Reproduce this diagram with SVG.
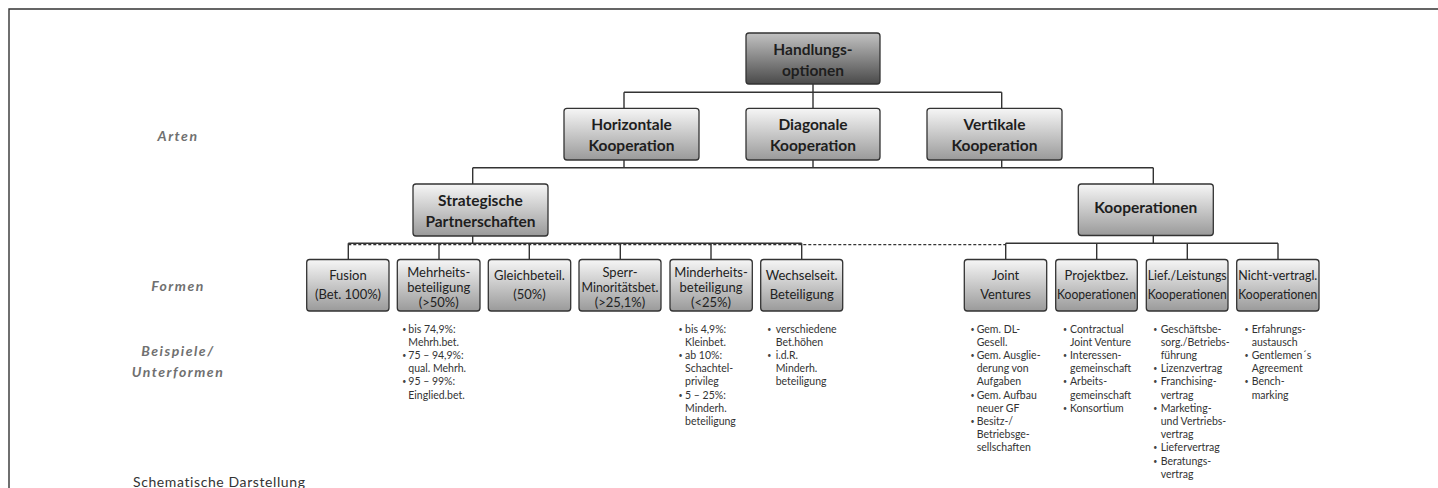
<svg xmlns="http://www.w3.org/2000/svg" width="1438" height="488" viewBox="0 0 1438 488">
<style>
.bx{stroke:#333;stroke-width:1.3;fill:url(#gl)}
.dk{stroke:#333;stroke-width:1.3;fill:url(#gd)}
.tb{font-family:Lato,"Open Sans",sans-serif;font-weight:bold;font-size:15.5px;fill:#1e1e1e;text-anchor:middle}
.tf{font-family:Lato,"Open Sans",sans-serif;font-size:13px;fill:#222;text-anchor:middle}
.lab{font-family:Lato,"Open Sans",sans-serif;font-weight:bold;font-style:italic;font-size:14px;letter-spacing:1.5px;fill:#707070;text-anchor:middle}
.ex{font-family:Lato,"Open Sans",sans-serif;font-size:10.5px;fill:#333}
.bu{font-family:Lato,"Open Sans",sans-serif;font-size:7px;fill:#444}
.cn{stroke:#333;stroke-width:1.4;fill:none}
.ds{stroke:#333;stroke-width:1.3;fill:none;stroke-dasharray:3 2}
</style>
<defs>
<linearGradient id="gl" x1="0" y1="0" x2="0" y2="1"><stop offset="0" stop-color="#f6f6f6"/><stop offset="1" stop-color="#9a9a9a"/></linearGradient>
<linearGradient id="gd" x1="0" y1="0" x2="0" y2="1"><stop offset="0" stop-color="#c2c2c2"/><stop offset="1" stop-color="#4a4a4a"/></linearGradient>
</defs>
<rect width="1438" height="488" fill="#fff"/>
<path d="M9,490 V9 H1440" fill="none" stroke="#333" stroke-width="1.4"/>

<g id="labels">
<text class="lab" x="178" y="141">Arten</text>
<text class="lab" x="178" y="291">Formen</text>
<text class="lab" x="178" y="356">Beispiele/</text>
<text class="lab" x="178" y="377">Unterformen</text>
<text x="133" y="487" font-family="Lato,'Open Sans',sans-serif" font-size="14" fill="#333" letter-spacing="0.6">Schematische Darstellung</text>
</g>

<g id="connectors">
<path class="cn" d="M813,84 V92.3 M624,92.3 H1001.7 M624,92.3 V108 M813,92.3 V108 M1001.7,92.3 V108"/>
<path class="cn" d="M624,160 V167.7 M813,160 V167.7 M1001.7,160 V167.7 M472.7,167.7 H1153.3 M472.7,167.7 V184 M1153.3,167.7 V184"/>
<path class="cn" d="M472.7,236 V243.3 M348.3,243.3 H801.7 M348.3,243.3 V259.5 M439,243.3 V259.5 M529.3,243.3 V259.5 M620.3,243.3 V259.5 M711,243.3 V259.5 M801.7,243.3 V259.5"/>
<path class="ds" d="M348.3,244.6 H1005.7"/>
<path class="cn" d="M1153.3,235.5 V243.3 M1005.7,243.3 H1278 M1005.7,243.3 V259.5 M1096.7,243.3 V259.5 M1187.3,243.3 V259.5 M1278,243.3 V259.5"/>
</g>

<g id="n-handlung"><rect class="dk" x="746" y="33" width="134" height="51" rx="3"/><text class="tb" x="813" y="54.5">Handlungs-</text><text class="tb" x="813" y="75.5">optionen</text></g>
<g id="n-horizontal"><rect class="bx" x="564" y="108.3" width="135" height="51.7" rx="3"/><text class="tb" x="631.5" y="129.5">Horizontale</text><text class="tb" x="631.5" y="151">Kooperation</text></g>
<g id="n-diagonal"><rect class="bx" x="746" y="108.3" width="134" height="51.7" rx="3"/><text class="tb" x="813" y="129.5">Diagonale</text><text class="tb" x="813" y="151">Kooperation</text></g>
<g id="n-vertikal"><rect class="bx" x="927" y="108.3" width="135" height="51.7" rx="3"/><text class="tb" x="994.5" y="129.5">Vertikale</text><text class="tb" x="994.5" y="151">Kooperation</text></g>
<g id="n-strategisch"><rect class="bx" x="413" y="184" width="135" height="52" rx="3"/><text class="tb" x="480.5" y="205.5">Strategische</text><text class="tb" x="480.5" y="227">Partnerschaften</text></g>
<g id="n-kooperationen"><rect class="bx" x="1078.3" y="184" width="135" height="51.5" rx="3"/><text class="tb" x="1145.8" y="213">Kooperationen</text></g>

<g id="n-fusion"><rect class="bx" x="306.7" y="259.5" width="82.3" height="51.5" rx="3"/><text class="tf" x="348" y="279.5">Fusion</text><text class="tf" x="348" y="298.5">(Bet. 100%)</text></g>
<g id="n-mehrheit"><rect class="bx" x="397.3" y="259.5" width="82.7" height="51.5" rx="3"/><text class="tf" x="438.7" y="276.5">Mehrheits-</text><text class="tf" x="438.7" y="291.5">beteiligung</text><text class="tf" x="438.7" y="306.5">(&gt;50%)</text></g>
<g id="n-gleich"><rect class="bx" x="488.3" y="259.5" width="82.4" height="51.5" rx="3"/><text class="tf" x="529.5" y="279.5">Gleichbeteil.</text><text class="tf" x="529.5" y="298.5">(50%)</text></g>
<g id="n-sperr"><rect class="bx" x="579" y="259.5" width="82" height="51.5" rx="3"/><text class="tf" x="620" y="276.5">Sperr-</text><text class="tf" x="620" y="291.5" textLength="77" lengthAdjust="spacingAndGlyphs">Minoritätsbet.</text><text class="tf" x="620" y="306.5">(&gt;25,1%)</text></g>
<g id="n-minderheit"><rect class="bx" x="670" y="259.5" width="82.3" height="51.5" rx="3"/><text class="tf" x="711" y="276.5">Minderheits-</text><text class="tf" x="711" y="291.5">beteiligung</text><text class="tf" x="711" y="306.5">(&lt;25%)</text></g>
<g id="n-wechsel"><rect class="bx" x="760.7" y="259.5" width="82" height="51.5" rx="3"/><text class="tf" x="801.7" y="279.5">Wechselseit.</text><text class="tf" x="801.7" y="298.5">Beteiligung</text></g>
<g id="n-joint"><rect class="bx" x="964.3" y="259.5" width="82.4" height="51.5" rx="3"/><text class="tf" x="1005.5" y="279.5">Joint</text><text class="tf" x="1005.5" y="298.5">Ventures</text></g>
<g id="n-projekt"><rect class="bx" x="1055.7" y="259.5" width="81.6" height="51.5" rx="3"/><text class="tf" x="1096.5" y="279.5">Projektbez.</text><text class="tf" x="1096.5" y="298.5" textLength="79" lengthAdjust="spacingAndGlyphs">Kooperationen</text></g>
<g id="n-lief"><rect class="bx" x="1146.3" y="259.5" width="81.7" height="51.5" rx="3"/><text class="tf" x="1187.2" y="279.5" textLength="79" lengthAdjust="spacingAndGlyphs">Lief./Leistungs</text><text class="tf" x="1187.2" y="298.5" textLength="79" lengthAdjust="spacingAndGlyphs">Kooperationen</text></g>
<g id="n-nicht"><rect class="bx" x="1236.7" y="259.5" width="82.3" height="51.5" rx="3"/><text class="tf" x="1277.8" y="279.5" textLength="79" lengthAdjust="spacingAndGlyphs">Nicht-vertragl.</text><text class="tf" x="1277.8" y="298.5" textLength="79" lengthAdjust="spacingAndGlyphs">Kooperationen</text></g>

<g id="ex-mehrheit">
<text class="bu"><tspan x="402.3" y="331.5">•</tspan><tspan x="402.3" y="357.9">•</tspan><tspan x="402.3" y="384.3">•</tspan></text>
<text class="ex"><tspan x="408.3" y="332.5">bis 74,9%:</tspan><tspan x="408.3" dy="13.2">Mehrh.bet.</tspan><tspan x="408.3" dy="13.2">75 – 94,9%:</tspan><tspan x="408.3" dy="13.2">qual. Mehrh.</tspan><tspan x="408.3" dy="13.2">95 – 99%:</tspan><tspan x="408.3" dy="13.2">Einglied.bet.</tspan></text>
</g>
<g id="ex-minderheit">
<text class="bu"><tspan x="678.5" y="331.5">•</tspan><tspan x="678.5" y="357.9">•</tspan><tspan x="678.5" y="397.5">•</tspan></text>
<text class="ex"><tspan x="685" y="332.5">bis 4,9%:</tspan><tspan x="685" dy="13.2">Kleinbet.</tspan><tspan x="685" dy="13.2">ab 10%:</tspan><tspan x="685" dy="13.2">Schachtel-</tspan><tspan x="685" dy="13.2">privileg</tspan><tspan x="685" dy="13.2">5 – 25%:</tspan><tspan x="685" dy="13.2">Minderh.</tspan><tspan x="685" dy="13.2">beteiligung</tspan></text>
</g>
<g id="ex-wechsel">
<text class="bu"><tspan x="767.3" y="331.5">•</tspan><tspan x="767.3" y="357.9">•</tspan></text>
<text class="ex"><tspan x="775.7" y="332.5">verschiedene</tspan><tspan x="775.7" dy="13.2">Bet.höhen</tspan><tspan x="775.7" dy="13.2">i.d.R.</tspan><tspan x="775.7" dy="13.2">Minderh.</tspan><tspan x="775.7" dy="13.2">beteiligung</tspan></text>
</g>
<g id="ex-joint">
<text class="bu"><tspan x="970.5" y="331.5">•</tspan><tspan x="970.5" y="357.9">•</tspan><tspan x="970.5" y="397.5">•</tspan><tspan x="970.5" y="423.9">•</tspan></text>
<text class="ex"><tspan x="976.7" y="332.5">Gem. DL-</tspan><tspan x="976.7" dy="13.2">Gesell.</tspan><tspan x="976.7" dy="13.2">Gem. Ausglie-</tspan><tspan x="976.7" dy="13.2">derung von</tspan><tspan x="976.7" dy="13.2">Aufgaben</tspan><tspan x="976.7" dy="13.2">Gem. Aufbau</tspan><tspan x="976.7" dy="13.2">neuer GF</tspan><tspan x="976.7" dy="13.2">Besitz-/</tspan><tspan x="976.7" dy="13.2">Betriebsge-</tspan><tspan x="976.7" dy="13.2">sellschaften</tspan></text>
</g>
<g id="ex-projekt">
<text class="bu"><tspan x="1063" y="331.5">•</tspan><tspan x="1063" y="357.9">•</tspan><tspan x="1063" y="384.3">•</tspan><tspan x="1063" y="410.7">•</tspan></text>
<text class="ex"><tspan x="1070" y="332.5">Contractual</tspan><tspan x="1070" dy="13.2">Joint Venture</tspan><tspan x="1070" dy="13.2">Interessen-</tspan><tspan x="1070" dy="13.2">gemeinschaft</tspan><tspan x="1070" dy="13.2">Arbeits-</tspan><tspan x="1070" dy="13.2">gemeinschaft</tspan><tspan x="1070" dy="13.2">Konsortium</tspan></text>
</g>
<g id="ex-lief">
<text class="bu"><tspan x="1153.3" y="331.5">•</tspan><tspan x="1153.3" y="371.1">•</tspan><tspan x="1153.3" y="384.3">•</tspan><tspan x="1153.3" y="410.7">•</tspan><tspan x="1153.3" y="450.3">•</tspan><tspan x="1153.3" y="463.5">•</tspan></text>
<text class="ex"><tspan x="1160.7" y="332.5">Geschäftsbe-</tspan><tspan x="1160.7" dy="13.2">sorg./Betriebs-</tspan><tspan x="1160.7" dy="13.2">führung</tspan><tspan x="1160.7" dy="13.2">Lizenzvertrag</tspan><tspan x="1160.7" dy="13.2">Franchising-</tspan><tspan x="1160.7" dy="13.2">vertrag</tspan><tspan x="1160.7" dy="13.2">Marketing-</tspan><tspan x="1160.7" dy="13.2">und Vertriebs-</tspan><tspan x="1160.7" dy="13.2">vertrag</tspan><tspan x="1160.7" dy="13.2">Liefervertrag</tspan><tspan x="1160.7" dy="13.2">Beratungs-</tspan><tspan x="1160.7" dy="13.2">vertrag</tspan></text>
</g>
<g id="ex-nicht">
<text class="bu"><tspan x="1244.5" y="331.5">•</tspan><tspan x="1244.5" y="357.9">•</tspan><tspan x="1244.5" y="384.3">•</tspan></text>
<text class="ex"><tspan x="1251.7" y="332.5">Erfahrungs-</tspan><tspan x="1251.7" dy="13.2">austausch</tspan><tspan x="1251.7" dy="13.2">Gentlemen´s</tspan><tspan x="1251.7" dy="13.2">Agreement</tspan><tspan x="1251.7" dy="13.2">Bench-</tspan><tspan x="1251.7" dy="13.2">marking</tspan></text>
</g>
</svg>
